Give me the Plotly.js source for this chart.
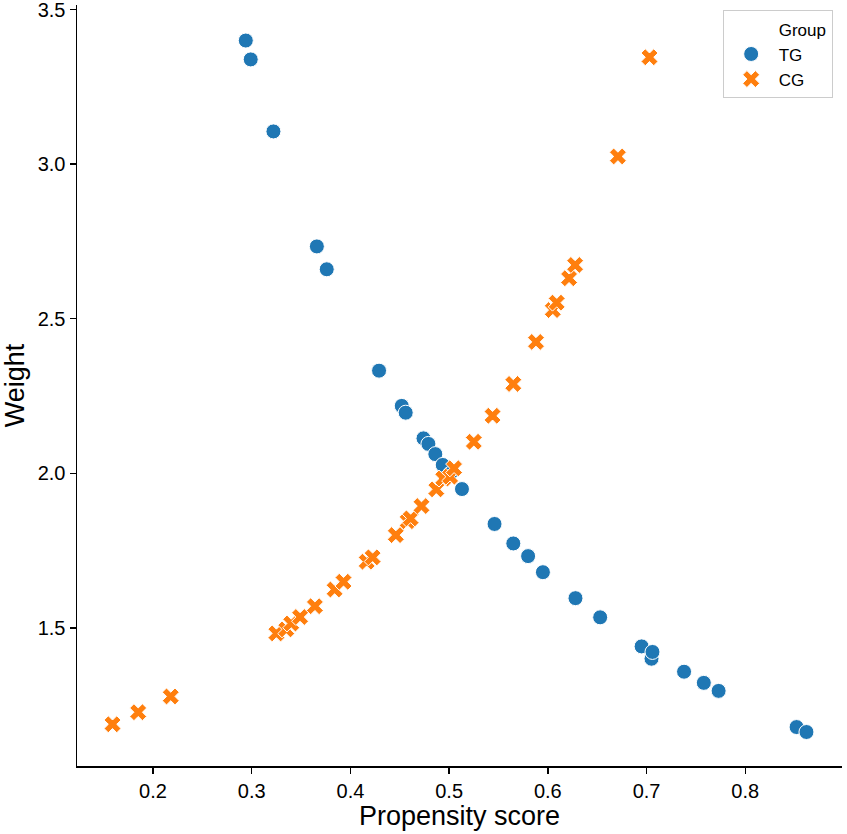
<!DOCTYPE html>
<html>
<head>
<meta charset="utf-8">
<script src="https://cdn.plot.ly/plotly-3.0.1.min.js"></script>
<style>html,body{margin:0;padding:0;background:#fff;}#chart{width:847px;height:834px;}</style>
</head>
<body>
<div id="chart"></div>
<script>
const tgX = [0.294,0.299,0.322,0.366,0.376,0.429,0.452,0.456,0.474,0.479,0.486,0.4935,0.501,0.513,0.546,0.565,0.580,0.595,0.628,0.653,0.695,0.705,0.706,0.738,0.758,0.773,0.852,0.862];
const tgY = [3.400,3.339,3.106,2.734,2.660,2.332,2.218,2.196,2.113,2.095,2.062,2.027,1.998,1.949,1.836,1.773,1.732,1.680,1.596,1.534,1.440,1.400,1.422,1.358,1.322,1.296,1.179,1.163];
const cgX = [0.159,0.185,0.218,0.325,0.335,0.340,0.349,0.364,0.384,0.393,0.4165,0.4225,0.446,0.458,0.461,0.472,0.487,0.494,0.501,0.505,0.525,0.544,0.565,0.588,0.605,0.609,0.6215,0.6276,0.671,0.703];
const cgY = [1.188,1.227,1.278,1.482,1.495,1.514,1.535,1.570,1.624,1.649,1.714,1.728,1.800,1.845,1.854,1.894,1.948,1.983,1.989,2.016,2.102,2.186,2.289,2.425,2.528,2.552,2.631,2.674,3.025,3.346];
const xTicks = [0.2,0.3,0.4,0.5,0.6,0.7,0.8];
const yTicks = [1.5,2.0,2.5,3.0,3.5];
const legendTitle = "Group";
const groupNames = ["TG","CG"];

const font = "Liberation Sans, Arial, sans-serif";
const traces = [
  {x:[null], y:[null], type:"scatter", mode:"markers", name:legendTitle,
   marker:{size:14, color:"rgba(0,0,0,0)"}, hoverinfo:"skip"},
  {x:tgX, y:tgY, type:"scatter", mode:"markers", name:groupNames[0],
   marker:{symbol:"circle", size:15, color:"#1f77b4", line:{color:"#ffffff", width:1}}},
  {x:cgX, y:cgY, type:"scatter", mode:"markers", name:groupNames[1],
   marker:{symbol:"x", size:15, color:"#ff7f0e", line:{color:"#ffffff", width:1}}}
];
const layout = {
  width:847, height:834,
  margin:{l:77, r:5, t:5, b:68},
  paper_bgcolor:"#ffffff", plot_bgcolor:"#ffffff",
  font:{family:font, color:"#000000"},
  showlegend:true,
  legend:{x:0.844, y:0.993, xanchor:"left", yanchor:"top",
    bordercolor:"#cccccc", borderwidth:1, bgcolor:"#ffffff",
    font:{size:17, family:font}, itemsizing:"trace", itemwidth:45, tracegroupgap:0},
  xaxis:{range:[0.123,0.898], tickvals:xTicks, tickformat:".1f",
    showgrid:false, zeroline:false, showline:true, linecolor:"#000", linewidth:1.5,
    ticks:"outside", ticklen:6, tickwidth:1.5, tickcolor:"#000",
    tickfont:{size:20, family:font}, ticklabeloverflow:"allow",
    title:{text:"Propensity score", font:{size:27, family:font}, standoff:3}},
  yaxis:{range:[1.053,3.515], tickvals:yTicks, tickformat:".1f",
    showgrid:false, zeroline:false, showline:true, linecolor:"#000", linewidth:1.5,
    ticks:"outside", ticklen:6, tickwidth:1.5, tickcolor:"#000",
    tickfont:{size:20, family:font}, ticklabeloverflow:"allow",
    title:{text:"Weight", font:{size:27, family:font}, standoff:8}}
};
Plotly.newPlot("chart", traces, layout, {displayModeBar:false, staticPlot:true});
</script>
</body>
</html>
